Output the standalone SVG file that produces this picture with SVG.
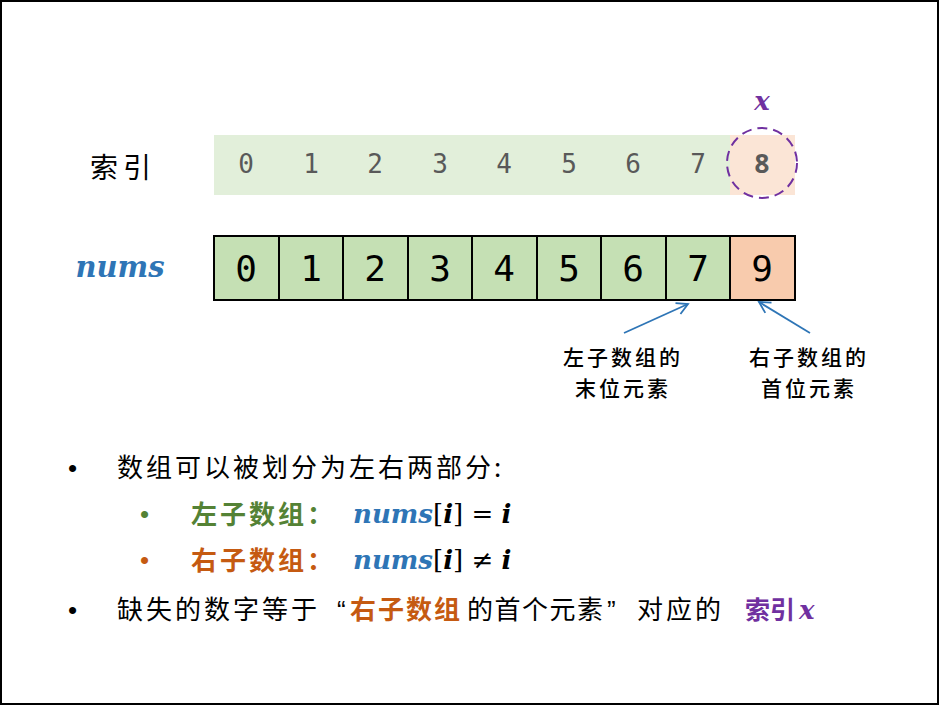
<svg xmlns="http://www.w3.org/2000/svg" width="939" height="705" viewBox="0 0 939 705">
<defs>
<marker id="ah" markerWidth="14" markerHeight="14" refX="12" refY="7" orient="auto" markerUnits="userSpaceOnUse">
<path d="M1,1 L12,7 L1,13" fill="none" stroke="#2E75B6" stroke-width="1.8"/>
</marker>
<style>
.cjk{font-family:"Noto Sans CJK SC","Noto Sans",sans-serif;}
.idx{font-family:"DejaVu Sans Mono",monospace;font-size:26px;fill:#595959;text-anchor:middle;}
.val{font-family:"DejaVu Sans Mono",monospace;font-size:36px;fill:#000;text-anchor:middle;}
.cell{stroke:#000;stroke-width:2;}
.math{font-family:"DejaVu Serif","Liberation Serif",serif;font-style:italic;font-weight:bold;}
.txt{font-size:26px;fill:#000;letter-spacing:3px;}
.lbl{font-size:21px;fill:#000;font-weight:500;letter-spacing:3px;}
</style>
</defs>
<rect x="1" y="1" width="937" height="703" fill="#fff" stroke="#000" stroke-width="2"/>

<g id="index-row">
<text x="90" y="178" class="cjk" font-size="28" letter-spacing="5" fill="#000">索引</text>
<rect x="214" y="135" width="516" height="60" fill="#E2EFDA"/>
<rect x="730" y="135" width="65" height="60" fill="#FBE5D6"/>
<text x="246" y="173" class="idx">0</text>
<text x="311" y="173" class="idx">1</text>
<text x="375" y="173" class="idx">2</text>
<text x="440" y="173" class="idx">3</text>
<text x="504" y="173" class="idx">4</text>
<text x="569" y="173" class="idx">5</text>
<text x="633" y="173" class="idx">6</text>
<text x="698" y="173" class="idx">7</text>
<text x="762" y="173" font-family="'Noto Sans','DejaVu Sans',sans-serif" font-weight="bold" font-size="26" fill="#595959" text-anchor="middle">8</text>
</g>

<g id="x-marker">
<circle cx="762" cy="163" r="35" fill="none" stroke="#7030A0" stroke-width="2" stroke-dasharray="10,6"/>
<text x="762" y="110" class="math" font-size="26" fill="#7030A0" text-anchor="middle">x</text>
</g>

<g id="nums-row">
<text x="120" y="277" class="math" font-size="29" fill="#2E75B6" text-anchor="middle">nums</text>
<rect class="cell" x="214" y="236" width="65" height="64" fill="#C5E0B4"/>
<rect class="cell" x="279" y="236" width="64" height="64" fill="#C5E0B4"/>
<rect class="cell" x="343" y="236" width="65" height="64" fill="#C5E0B4"/>
<rect class="cell" x="408" y="236" width="64" height="64" fill="#C5E0B4"/>
<rect class="cell" x="472" y="236" width="65" height="64" fill="#C5E0B4"/>
<rect class="cell" x="537" y="236" width="64" height="64" fill="#C5E0B4"/>
<rect class="cell" x="601" y="236" width="65" height="64" fill="#C5E0B4"/>
<rect class="cell" x="666" y="236" width="64" height="64" fill="#C5E0B4"/>
<rect class="cell" x="730" y="236" width="65" height="64" fill="#F8CBAD"/>
<text x="246" y="281" class="val">0</text>
<text x="311" y="281" class="val">1</text>
<text x="375" y="281" class="val">2</text>
<text x="440" y="281" class="val">3</text>
<text x="504" y="281" class="val">4</text>
<text x="569" y="281" class="val">5</text>
<text x="633" y="281" class="val">6</text>
<text x="698" y="281" class="val">7</text>
<text x="762" y="281" class="val">9</text>
</g>

<g id="connectors">
<line x1="624" y1="333" x2="688" y2="304" stroke="#2E75B6" stroke-width="1.8" marker-end="url(#ah)"/>
<line x1="810" y1="333" x2="759" y2="302" stroke="#2E75B6" stroke-width="1.8" marker-end="url(#ah)"/>
</g>

<g id="label-left">
<text x="563" y="365" class="cjk lbl">左子数组的</text>
<text x="575" y="396" class="cjk lbl">末位元素</text>
</g>
<g id="label-right">
<text x="749" y="365" class="cjk lbl">右子数组的</text>
<text x="761" y="396" class="cjk lbl">首位元素</text>
</g>

<g id="bullets">
<text x="68" y="477" font-size="26" font-family="'Liberation Sans',sans-serif">•</text>
<text x="117" y="477" class="cjk txt">数组可以被划分为左右两部分:</text>

<text x="140" y="523" font-family="'Liberation Sans',sans-serif" font-size="26" fill="#548235">•</text>
<text x="191" y="524" class="cjk" font-size="26" letter-spacing="3" font-weight="bold" fill="#548235">左子数组：</text>
<text x="353" y="523" font-size="26"><tspan class="math" fill="#2E75B6">nums</tspan><tspan font-family="'DejaVu Serif',serif" fill="#000">[</tspan><tspan class="math" fill="#000">i</tspan><tspan font-family="'DejaVu Serif',serif" fill="#000">] = </tspan><tspan class="math" fill="#000">i</tspan></text>

<text x="140" y="569" font-family="'Liberation Sans',sans-serif" font-size="26" fill="#C55A11">•</text>
<text x="191" y="570" class="cjk" font-size="26" letter-spacing="3" font-weight="bold" fill="#C55A11">右子数组：</text>
<text x="353" y="569" font-size="26"><tspan class="math" fill="#2E75B6">nums</tspan><tspan font-family="'DejaVu Serif',serif" fill="#000">[</tspan><tspan class="math" fill="#000">i</tspan><tspan font-family="'DejaVu Serif',serif" fill="#000">] ≠ </tspan><tspan class="math" fill="#000">i</tspan></text>

<text x="68" y="619" font-size="26" font-family="'Liberation Sans',sans-serif">•</text>
<text y="619" class="cjk" font-size="26" fill="#000"><tspan x="117" letter-spacing="3">缺失的数字等于</tspan><tspan x="337" font-family="'Liberation Sans',sans-serif">“</tspan><tspan x="350" fill="#C55A11" font-weight="bold" letter-spacing="2">右子数组</tspan><tspan x="467" letter-spacing="1.5">的首个元素</tspan><tspan x="607" font-family="'Liberation Sans',sans-serif">”</tspan><tspan x="637" letter-spacing="3">对应的</tspan><tspan x="745" fill="#7030A0" font-weight="bold" font-size="25">索引</tspan></text>
<text x="799" y="619" class="math" font-size="26" fill="#7030A0">x</text>
</g>
</svg>
